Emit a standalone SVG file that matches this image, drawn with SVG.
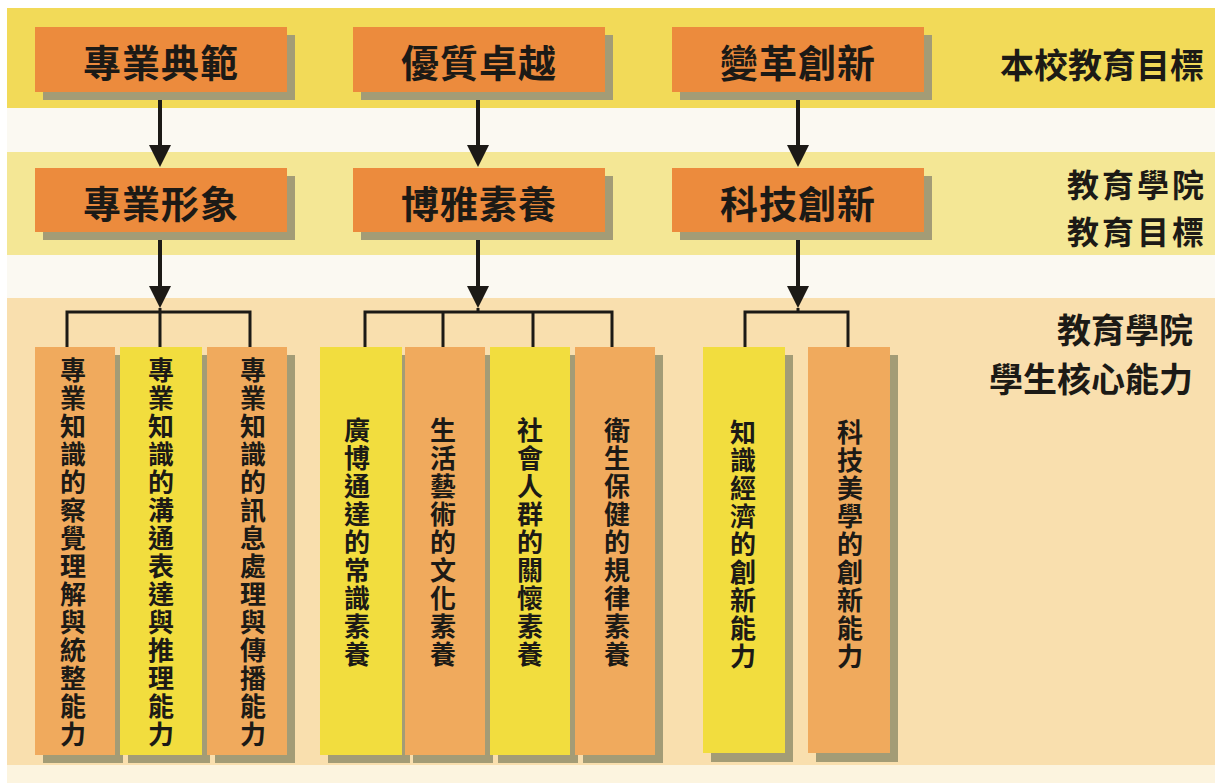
<svg xmlns="http://www.w3.org/2000/svg" width="1215" height="783" viewBox="0 0 1215 783">
<style>
.box{fill:#ec8b3d}
.shadow{fill:#a39c76}
.colO{fill:#f0aa5d}
.colY{fill:#f2dd3e}
.t{font-family:"Noto Sans CJK TC","Noto Sans CJK SC",sans-serif;fill:#1c1a16;font-weight:700}
.big{font-size:38px;text-anchor:middle;dominant-baseline:central;letter-spacing:1px}
.lab{font-size:34px;text-anchor:end;dominant-baseline:central}
.lab2{font-size:32px;text-anchor:end;dominant-baseline:central;letter-spacing:3px}
.v{font-size:26px;text-anchor:middle;dominant-baseline:central}
.arrow{stroke:#1c1a16;stroke-width:4;fill:none;marker-end:url(#ah)}
.tree{stroke:#1c1a16;stroke-width:3;fill:none;stroke-linejoin:miter}
</style>
<defs>
<marker id="ah" markerUnits="userSpaceOnUse" markerWidth="22" markerHeight="22" refX="0" refY="11" orient="auto">
<path d="M0,0 L22,11 L0,22 z" fill="#1c1a16"/>
</marker>
</defs>
<rect x="0" y="0" width="1215" height="783" fill="#ffffff"/>
<g id="bands">
<rect x="7" y="8" width="1208" height="100" fill="#f2da58"/>
<rect x="7" y="108" width="1208" height="44" fill="#fbf9f2"/>
<rect x="7" y="152" width="1208" height="103" fill="#f4e795"/>
<rect x="7" y="255" width="1208" height="43" fill="#fbf9f2"/>
<rect x="7" y="298" width="1208" height="467" fill="#f9dfae"/>
<rect x="7" y="765" width="1208" height="18" fill="#fcf4df"/>
</g>
<g id="labels">
<text class="t lab" x="1204" y="63">本校教育目標</text>
<text class="t lab2" x="1207" y="183">教育學院</text>
<text class="t lab2" x="1207" y="230">教育目標</text>
<text class="t lab" x="1193" y="328">教育學院</text>
<text class="t lab" x="1193" y="377">學生核心能力</text>
</g>
<g id="connectors">
<line class="arrow" x1="160" y1="92" x2="160" y2="145"/>
<line class="arrow" x1="478" y1="92" x2="478" y2="145"/>
<line class="arrow" x1="798" y1="92" x2="798" y2="145"/>
<line class="arrow" x1="160" y1="232" x2="160" y2="286"/>
<line class="arrow" x1="478" y1="232" x2="478" y2="286"/>
<line class="arrow" x1="798" y1="232" x2="798" y2="286"/>
<path class="tree" d="M67,347 V312 H250 V347 M160,308 V347"/>
<path class="tree" d="M365,347 V312 H612 V347 M443,312 V347 M533,312 V347 M478,308 V312"/>
<path class="tree" d="M745,347 V312 H848 V347 M798,308 V312"/>
</g>
<g id="n-zhuanye-dianfan">
<rect class="shadow" x="43" y="35" width="252" height="65"/>
<rect class="box" x="35" y="27" width="252" height="65"/>
<text class="t big" x="161" y="60">專業典範</text>
</g>
<g id="n-youzhi-zhuoyue">
<rect class="shadow" x="361" y="35" width="252" height="65"/>
<rect class="box" x="353" y="27" width="252" height="65"/>
<text class="t big" x="479" y="60">優質卓越</text>
</g>
<g id="n-biange-chuangxin">
<rect class="shadow" x="680" y="35" width="252" height="65"/>
<rect class="box" x="672" y="27" width="252" height="65"/>
<text class="t big" x="798" y="60">變革創新</text>
</g>
<g id="n-zhuanye-xingxiang">
<rect class="shadow" x="43" y="176" width="252" height="64"/>
<rect class="box" x="35" y="168" width="252" height="64"/>
<text class="t big" x="161" y="201">專業形象</text>
</g>
<g id="n-boya-suyang">
<rect class="shadow" x="361" y="176" width="252" height="64"/>
<rect class="box" x="353" y="168" width="252" height="64"/>
<text class="t big" x="479" y="201">博雅素養</text>
</g>
<g id="n-keji-chuangxin">
<rect class="shadow" x="680" y="176" width="252" height="64"/>
<rect class="box" x="672" y="168" width="252" height="64"/>
<text class="t big" x="798" y="201">科技創新</text>
</g>
<g id="c1">
<rect class="shadow" x="43" y="355" width="80" height="408"/>
<rect class="colO" x="35" y="347" width="80" height="408"/>
<text class="t v" x="73" y="368"><tspan x="73" dy="0">專</tspan><tspan x="73" dy="28">業</tspan><tspan x="73" dy="28">知</tspan><tspan x="73" dy="28">識</tspan><tspan x="73" dy="28">的</tspan><tspan x="73" dy="28">察</tspan><tspan x="73" dy="28">覺</tspan><tspan x="73" dy="28">理</tspan><tspan x="73" dy="28">解</tspan><tspan x="73" dy="28">與</tspan><tspan x="73" dy="28">統</tspan><tspan x="73" dy="28">整</tspan><tspan x="73" dy="28">能</tspan><tspan x="73" dy="28">力</tspan></text>
</g>
<g id="c2">
<rect class="shadow" x="128" y="355" width="82" height="408"/>
<rect class="colY" x="120" y="347" width="82" height="408"/>
<text class="t v" x="161" y="368"><tspan x="161" dy="0">專</tspan><tspan x="161" dy="28">業</tspan><tspan x="161" dy="28">知</tspan><tspan x="161" dy="28">識</tspan><tspan x="161" dy="28">的</tspan><tspan x="161" dy="28">溝</tspan><tspan x="161" dy="28">通</tspan><tspan x="161" dy="28">表</tspan><tspan x="161" dy="28">達</tspan><tspan x="161" dy="28">與</tspan><tspan x="161" dy="28">推</tspan><tspan x="161" dy="28">理</tspan><tspan x="161" dy="28">能</tspan><tspan x="161" dy="28">力</tspan></text>
</g>
<g id="c3">
<rect class="shadow" x="215" y="355" width="80" height="408"/>
<rect class="colO" x="207" y="347" width="80" height="408"/>
<text class="t v" x="253" y="368"><tspan x="253" dy="0">專</tspan><tspan x="253" dy="28">業</tspan><tspan x="253" dy="28">知</tspan><tspan x="253" dy="28">識</tspan><tspan x="253" dy="28">的</tspan><tspan x="253" dy="28">訊</tspan><tspan x="253" dy="28">息</tspan><tspan x="253" dy="28">處</tspan><tspan x="253" dy="28">理</tspan><tspan x="253" dy="28">與</tspan><tspan x="253" dy="28">傳</tspan><tspan x="253" dy="28">播</tspan><tspan x="253" dy="28">能</tspan><tspan x="253" dy="28">力</tspan></text>
</g>
<g id="c4">
<rect class="shadow" x="328" y="355" width="82" height="408"/>
<rect class="colY" x="320" y="347" width="82" height="408"/>
<text class="t v" x="357" y="428"><tspan x="357" dy="0">廣</tspan><tspan x="357" dy="28">博</tspan><tspan x="357" dy="28">通</tspan><tspan x="357" dy="28">達</tspan><tspan x="357" dy="28">的</tspan><tspan x="357" dy="28">常</tspan><tspan x="357" dy="28">識</tspan><tspan x="357" dy="28">素</tspan><tspan x="357" dy="28">養</tspan></text>
</g>
<g id="c5">
<rect class="shadow" x="413" y="355" width="80" height="408"/>
<rect class="colO" x="405" y="347" width="80" height="408"/>
<text class="t v" x="443" y="428"><tspan x="443" dy="0">生</tspan><tspan x="443" dy="28">活</tspan><tspan x="443" dy="28">藝</tspan><tspan x="443" dy="28">術</tspan><tspan x="443" dy="28">的</tspan><tspan x="443" dy="28">文</tspan><tspan x="443" dy="28">化</tspan><tspan x="443" dy="28">素</tspan><tspan x="443" dy="28">養</tspan></text>
</g>
<g id="c6">
<rect class="shadow" x="498" y="355" width="80" height="408"/>
<rect class="colY" x="490" y="347" width="80" height="408"/>
<text class="t v" x="530" y="428"><tspan x="530" dy="0">社</tspan><tspan x="530" dy="28">會</tspan><tspan x="530" dy="28">人</tspan><tspan x="530" dy="28">群</tspan><tspan x="530" dy="28">的</tspan><tspan x="530" dy="28">關</tspan><tspan x="530" dy="28">懷</tspan><tspan x="530" dy="28">素</tspan><tspan x="530" dy="28">養</tspan></text>
</g>
<g id="c7">
<rect class="shadow" x="583" y="355" width="80" height="408"/>
<rect class="colO" x="575" y="347" width="80" height="408"/>
<text class="t v" x="617" y="428"><tspan x="617" dy="0">衛</tspan><tspan x="617" dy="28">生</tspan><tspan x="617" dy="28">保</tspan><tspan x="617" dy="28">健</tspan><tspan x="617" dy="28">的</tspan><tspan x="617" dy="28">規</tspan><tspan x="617" dy="28">律</tspan><tspan x="617" dy="28">素</tspan><tspan x="617" dy="28">養</tspan></text>
</g>
<g id="c8">
<rect class="shadow" x="711" y="355" width="82" height="407"/>
<rect class="colY" x="703" y="347" width="82" height="406"/>
<text class="t v" x="743" y="430"><tspan x="743" dy="0">知</tspan><tspan x="743" dy="28">識</tspan><tspan x="743" dy="28">經</tspan><tspan x="743" dy="28">濟</tspan><tspan x="743" dy="28">的</tspan><tspan x="743" dy="28">創</tspan><tspan x="743" dy="28">新</tspan><tspan x="743" dy="28">能</tspan><tspan x="743" dy="28">力</tspan></text>
</g>
<g id="c9">
<rect class="shadow" x="816" y="355" width="82" height="407"/>
<rect class="colO" x="808" y="347" width="82" height="406"/>
<text class="t v" x="850" y="430"><tspan x="850" dy="0">科</tspan><tspan x="850" dy="28">技</tspan><tspan x="850" dy="28">美</tspan><tspan x="850" dy="28">學</tspan><tspan x="850" dy="28">的</tspan><tspan x="850" dy="28">創</tspan><tspan x="850" dy="28">新</tspan><tspan x="850" dy="28">能</tspan><tspan x="850" dy="28">力</tspan></text>
</g>
</svg>
